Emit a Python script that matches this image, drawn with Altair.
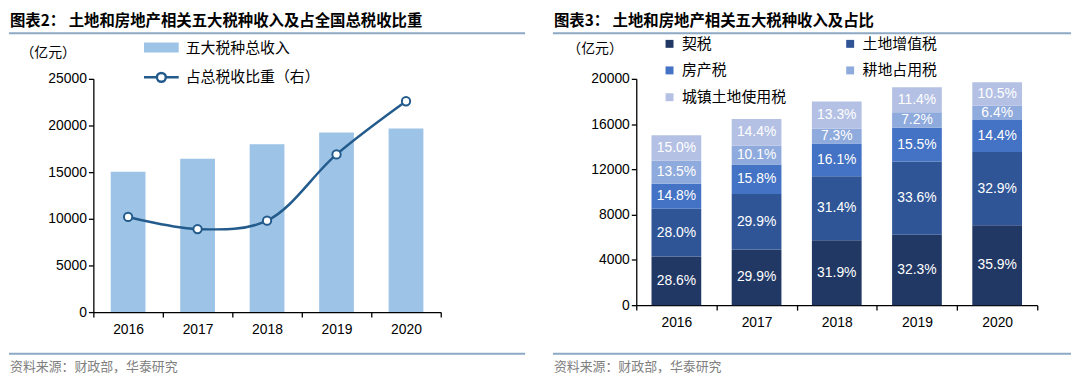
import altair as alt
import pandas as pd

# ---------------- data ----------------
years = ["2016", "2017", "2018", "2019", "2020"]
total_income = [15040, 16430, 17990, 19250, 19670]          # 亿元
tax_share = [11.52, 11.39, 11.48, 12.19, 12.76]              # %

tax_types = ["契税", "土地增值税", "房产税", "耕地占用税", "城镇土地使用税"]
tax_colors = ["#213764", "#2F5597", "#4472C4", "#8FAADC", "#B4C1E4"]
pct_deed = [28.6, 29.9, 31.9, 32.3, 35.9]
pct_lvat = [28.0, 29.9, 31.4, 33.6, 32.9]
pct_prop = [14.8, 15.8, 16.1, 15.5, 14.4]
pct_farm = [13.5, 10.1, 7.3, 7.2, 6.4]
pct_urban = [15.0, 14.4, 13.3, 11.4, 10.5]

# legend reading order (two columns, filled column by column)
legend_order = [0, 2, 4, 1, 3]

title_left = "图表2： 土地和房地产相关五大税种收入及占全国总税收比重"
title_right = "图表3： 土地和房地产相关五大税种收入及占比"
source_text = "资料来源：财政部，华泰研究"
bar_series = "五大税种总收入"
line_series = "占总税收比重（右）"

# ---------------- styles ----------------
CJK = "Noto Sans CJK SC"
LAT = "Liberation Sans"
SEP = "#8DA9C4"
LINE_C = "#235B8C"
BAR_C = "#9DC3E6"

W_L, H_L = 350, 235
W_R, H_R = 404, 228


def annotations(title, x_left, x_right):
    t = alt.Chart(pd.DataFrame({"t": [title]})).mark_text(
        font=CJK, fontSize=15.5, fontWeight="bold", align="left", baseline="middle", color="#000000"
    ).encode(text="t:N", x=alt.value(x_left + 1), y=alt.value(-58))
    r1 = alt.Chart(pd.DataFrame({"a": [0]})).mark_rule(color=SEP, strokeWidth=2).encode(
        x=alt.value(x_left), x2=alt.value(x_right), y=alt.value(-46)
    )
    r2 = alt.Chart(pd.DataFrame({"a": [0]})).mark_rule(color=SEP, strokeWidth=2).encode(
        x=alt.value(x_left), x2=alt.value(x_right), y=alt.value(277)
    )
    s = alt.Chart(pd.DataFrame({"t": [source_text]})).mark_text(
        font=CJK, fontSize=13, align="left", baseline="middle", color="#808080"
    ).encode(text="t:N", x=alt.value(x_left + 1), y=alt.value(290))
    return [t, r1, r2, s]


# ---------------- left panel ----------------
df_l = pd.DataFrame({
    "year": years,
    "income": total_income,
    "share": tax_share,
    "s_bar": [bar_series] * len(years),
    "s_line": [line_series] * len(years),
})

x_l = alt.X(
    "year:N", title=None,
    scale=alt.Scale(paddingInner=0, paddingOuter=0),
    axis=alt.Axis(labelAngle=0, tickBand="extent", tickSize=5, labelPadding=6),
)

bars_l = alt.Chart(df_l).mark_bar(width=alt.RelativeBandSize(0.5)).encode(
    x=x_l,
    y=alt.Y(
        "income:Q", scale=alt.Scale(domain=[0, 25000], nice=False),
        axis=alt.Axis(
            values=[0, 5000, 10000, 15000, 20000, 25000], format="d",
            title="（亿元）", titleAngle=0, titleX=-46, titleY=-27,
            titleAlign="center", titleBaseline="middle",
            titleFont=CJK, titleFontSize=14, titleFontWeight="normal",
        ),
    ),
    fill=alt.Fill(
        "s_bar:N", scale=alt.Scale(range=[BAR_C]),
        legend=alt.Legend(
            title=None, orient="none", legendX=61, legendY=-39,
            symbolType="M-3.5,-1H3.5V1H-3.5Z", symbolSize=100, symbolStrokeWidth=0,
            labelOffset=17, labelFont=CJK, labelFontSize=15, labelColor="#000000",
        ),
    ),
)

y_share = alt.Y(
    "share:Q", scale=alt.Scale(domain=[10.5, 13], nice=False),
    axis=alt.Axis(
        orient="right", values=[10.5, 11, 11.5, 12, 12.5, 13], format=".1~f",
        title="(%)", titleAngle=0, titleX=20, titleY=-27,
        titleAlign="center", titleBaseline="middle",
        titleFont=LAT, titleFontSize=14, titleFontWeight="normal",
    ),
)

line_l = alt.Chart(df_l).mark_line(interpolate="catmull-rom", strokeWidth=2.5).encode(
    x=x_l,
    y=y_share,
    stroke=alt.Stroke(
        "s_line:N", scale=alt.Scale(range=[LINE_C]),
        legend=alt.Legend(
            title=None, orient="none", legendX=61, legendY=-9,
            symbolType="M-3.5,0H-0.9M0.9,0H3.5M0.9,0A0.9,0.9 0 1,1 -0.9,0A0.9,0.9 0 1,1 0.9,0",
            symbolSize=100, symbolStrokeWidth=2.5, symbolFillColor="white",
            labelOffset=17, labelFont=CJK, labelFontSize=15, labelColor="#000000",
        ),
    ),
)

pts_l = alt.Chart(df_l).mark_point(
    filled=True, fill="white", stroke=LINE_C, strokeWidth=2, size=70, opacity=1
).encode(x=x_l, y=alt.Y("share:Q", scale=alt.Scale(domain=[10.5, 13], nice=False), axis=None))

left = alt.layer(
    bars_l, alt.layer(line_l, pts_l), *annotations(title_left, -85, 435)
).resolve_scale(y="independent").properties(width=W_L, height=H_L)

# ---------------- right panel ----------------
rows = []
pct_lists = [pct_deed, pct_lvat, pct_prop, pct_farm, pct_urban]
for i, y in enumerate(years):
    for k, t in enumerate(tax_types):
        p = pct_lists[k][i]
        rows.append({"year": y, "tax": t, "idx": k, "pct": p, "value": total_income[i] * p / 100})
df_r = pd.DataFrame(rows)

x_r = alt.X(
    "year:N", title=None,
    scale=alt.Scale(paddingInner=0, paddingOuter=0),
    axis=alt.Axis(labelAngle=0, tickBand="extent", tickSize=5, labelPadding=6),
)
y_scale_r = alt.Scale(domain=[0, 20000], nice=False)

bars_r = alt.Chart(df_r).mark_bar(width=alt.RelativeBandSize(0.62)).encode(
    x=x_r,
    y=alt.Y(
        "value:Q", stack="zero", scale=y_scale_r,
        axis=alt.Axis(
            values=[0, 4000, 8000, 12000, 16000, 20000], format="d",
            title="（亿元）", titleAngle=0, titleX=-42, titleY=-31,
            titleAlign="center", titleBaseline="middle",
            titleFont=CJK, titleFontSize=14, titleFontWeight="normal",
        ),
    ),
    color=alt.Color(
        "tax:N",
        scale=alt.Scale(
            domain=[tax_types[i] for i in legend_order],
            range=[tax_colors[i] for i in legend_order],
        ),
        legend=alt.Legend(
            title=None, orient="none", legendX=26, legendY=-43, columns=2,
            symbolType="square", symbolSize=64, symbolStrokeWidth=0,
            labelOffset=5, labelFont=CJK, labelFontSize=15, labelColor="#000000",
            columnPadding=56, rowPadding=11,
        ),
    ),
    order=alt.Order("idx:Q"),
)

text_r = alt.Chart(df_r).transform_stack(
    stack="value", groupby=["year"], as_=["y0", "y1"], sort=[alt.SortField("idx")]
).transform_calculate(
    mid="(datum.y0 + datum.y1) / 2",
    lab="format(datum.pct, '.1f') + '%'",
).mark_text(font=LAT, fontSize=14, color="white", baseline="middle").encode(
    x=x_r, y=alt.Y("mid:Q", scale=y_scale_r), text="lab:N"
)

right = alt.layer(
    bars_r, text_r, *annotations(title_right, -84, 438)
).properties(width=W_R, height=H_R)

chart = alt.hconcat(left, right, spacing=26).resolve_scale(
    color="independent", fill="independent", stroke="independent"
).resolve_legend(
    color="independent", fill="independent", stroke="independent"
).configure_view(stroke=None).configure_axis(
    grid=False, domainColor="#000000", domainWidth=1.3, tickColor="#000000", tickWidth=1.3,
    labelFont=LAT, labelFontSize=14, labelColor="#000000", titleColor="#000000",
).properties(padding={"top": 5, "left": 0, "right": 0, "bottom": 0})

chart.save("out.html", embed_options={"renderer": "svg", "actions": False})
